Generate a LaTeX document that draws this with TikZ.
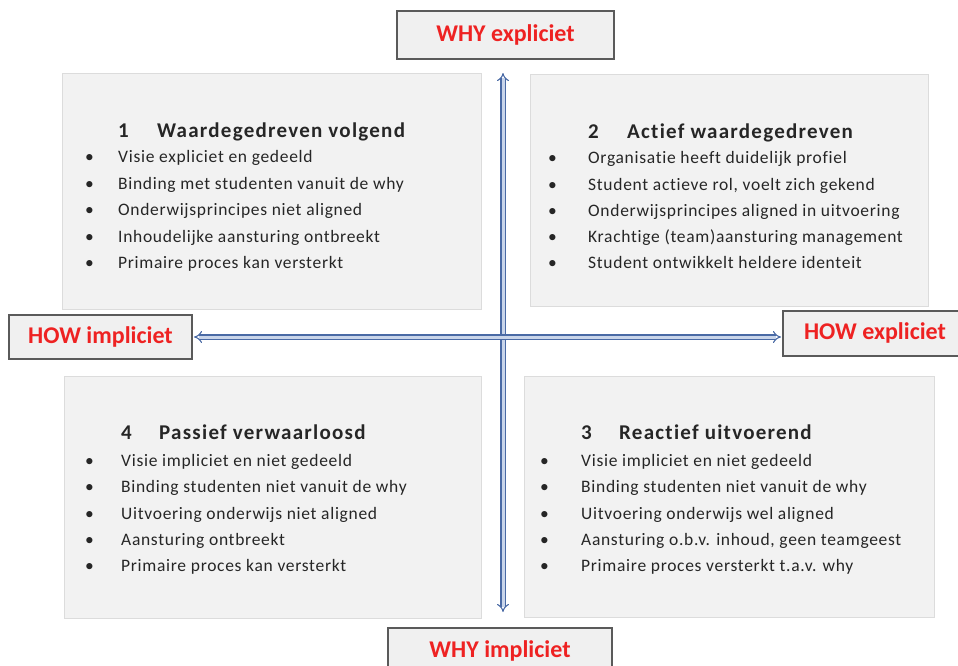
\documentclass[tikz,border=0pt]{standalone}
\usepackage{fontspec}
\setmainfont[Ligatures=CommonOff]{Carlito}
\newfontfamily\itemfont[LetterSpace=4,Ligatures=CommonOff]{Carlito}
\newfontfamily\headfont[LetterSpace=6,Ligatures=CommonOff]{Carlito}
\usetikzlibrary{arrows.meta,positioning}
\definecolor{quadfill}{HTML}{F2F2F2}
\definecolor{quadline}{HTML}{DCDCDC}
\definecolor{tagfill}{HTML}{F0F0F0}
\definecolor{tagline}{HTML}{5A5A5A}
\definecolor{tagred}{HTML}{EE2222}
\definecolor{axisblue}{HTML}{4A6AA5}
\definecolor{axislight}{HTML}{C9D5EA}
\definecolor{txtgray}{HTML}{262626}
\tikzset{
	quad/.style = {rectangle, fill=quadfill, draw=quadline, line width=0.6pt, inner sep=0pt},
	tag/.style = {rectangle, fill=tagfill, draw=tagline, line width=2pt, inner sep=0pt,
		font=\fontsize{24}{28}\selectfont\bfseries, text=tagred},
	head/.style = {anchor=west, inner sep=0pt, text height=14pt, text depth=0pt,
		font=\headfont\fontsize{21}{24}\selectfont\bfseries, text=txtgray},
	item/.style = {anchor=west, inner sep=0pt, text height=11.5pt, text depth=0pt,
		font=\itemfont\fontsize{17.5}{20}\selectfont, text=txtgray},
	axis/.style = {draw=axisblue, line width=1.1pt, double=axislight, double distance=3pt,
		{Implies}-{Implies}}
}
\begin{document}
\begin{tikzpicture}[x=1pt,y=-1pt]
	\useasboundingbox (0,0) rectangle (958,665);
	
	% the four quadrants
	\foreach \pos/\name/\w/\h in {{(271.5,191)/q1/419/236}, {(729,190)/q2/398/232},
		{(729,496.5)/q3/410/241}, {(272.5,497)/q4/417/242}}
	\node[quad, minimum width=\w pt, minimum height=\h pt] (\name) at \pos {};
	
	% the four labels on the axes
	\node[tag, minimum width=217pt, minimum height=48pt] (wtop) at (505.5,35) {WHY expliciet};
	\node[tag, minimum width=183pt, minimum height=44pt] (hleft) at (100.5,337) {HOW impliciet};
	\node[tag, minimum width=184pt, minimum height=45pt] (hright) at (875,333) {HOW expliciet};
	\node[tag, minimum width=224pt, minimum height=46pt] (wbot) at (500,651) {WHY impliciet};
	
	% axes
	\coordinate (ntop) at (503,73);
	\coordinate (nbot) at (503,612);
	\path[axis] (nbot) -- (ntop);
	\path[axis] ([xshift=1pt]hleft.east |- 0,337) -- ([xshift=-1pt]hright.west |- 0,337);
	
	% quadrant 1
	\node[head] (h1) at (118,130) {\makebox[39pt][l]{1}Waardegedreven volgend};
	\foreach \txt [count=\i] in {Visie expliciet en gedeeld, Binding met studenten vanuit de why,
		Onderwijsprincipes niet aligned, Inhoudelijke aansturing ontbreekt, Primaire proces kan versterkt}
	{
		\node[item] (q1i\i) at (118,{157+26.5*(\i-1)}) {\txt};
		\node[item] (q1b\i) at (85,{157+26.5*(\i-1)}) {\textbullet};
	}
	
	% quadrant 2
	\node[head] (h2) at (588,131) {\makebox[39pt][l]{2}Actief waardegedreven};
	\foreach \txt [count=\i] in {Organisatie heeft duidelijk profiel, {Student actieve rol, voelt zich gekend},
		Onderwijsprincipes aligned in uitvoering, Krachtige (team)aansturing management, Student ontwikkelt heldere identeit}
	{
		\node[item] (q2i\i) at (588,{158+26.3*(\i-1)}) {\txt};
		\node[item] (q2b\i) at (548,{158+26.3*(\i-1)}) {\textbullet};
	}
	
	% quadrant 3
	\node[head] (h3) at (581,432) {\makebox[38pt][l]{3}Reactief uitvoerend};
	\foreach \txt [count=\i] in {Visie impliciet en niet gedeeld, Binding studenten niet vanuit de why,
		Uitvoering onderwijs wel aligned, {Aansturing o.b.v. inhoud, geen teamgeest}, Primaire proces versterkt t.a.v. why}
	{
		\node[item] (q3i\i) at (581,{461+26.2*(\i-1)}) {\txt};
		\node[item] (q3b\i) at (540,{461+26.2*(\i-1)}) {\textbullet};
	}
	
	% quadrant 4
	\node[head] (h4) at (121,432) {\makebox[38pt][l]{4}Passief verwaarloosd};
	\foreach \txt [count=\i] in {Visie impliciet en niet gedeeld, Binding studenten niet vanuit de why,
		Uitvoering onderwijs niet aligned, Aansturing ontbreekt, Primaire proces kan versterkt}
	{
		\node[item] (q4i\i) at (121,{461+26.2*(\i-1)}) {\txt};
		\node[item] (q4b\i) at (85,{461+26.2*(\i-1)}) {\textbullet};
	}
	
\end{tikzpicture}
\end{document}
